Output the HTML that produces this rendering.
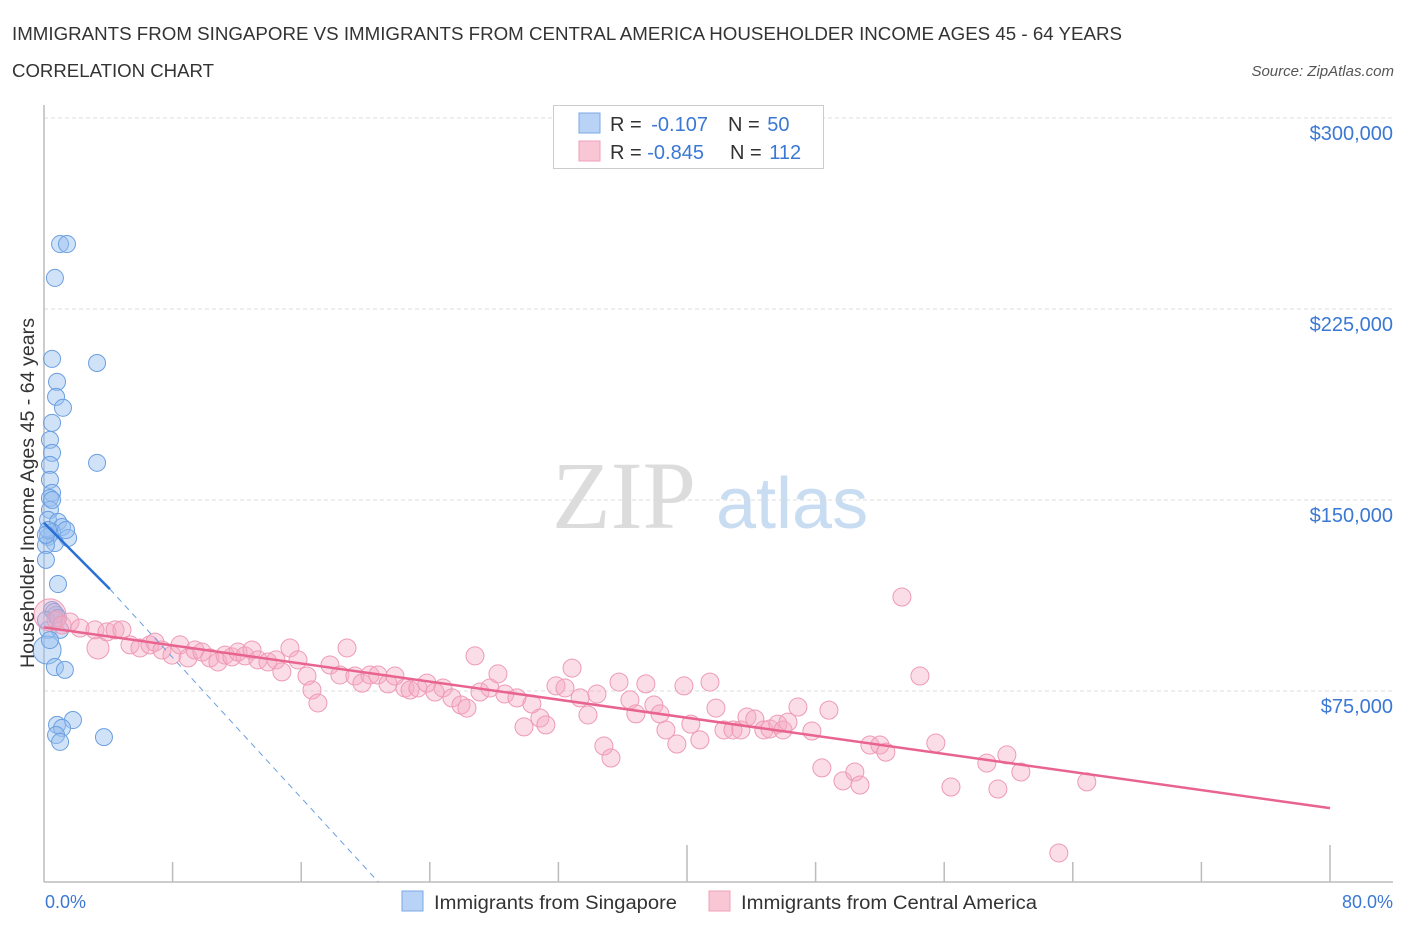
<!DOCTYPE html>
<html><head><meta charset="utf-8"><style>
body{margin:0;background:#fff;font-family:"Liberation Sans",sans-serif;}
svg{display:block}
</style></head><body>
<svg id="chart" width="1406" height="930" xmlns="http://www.w3.org/2000/svg">
<text x="12" y="40" font-size="18" fill="#333" textLength="1110" lengthAdjust="spacingAndGlyphs">IMMIGRANTS FROM SINGAPORE VS IMMIGRANTS FROM CENTRAL AMERICA HOUSEHOLDER INCOME AGES 45 - 64 YEARS</text>
<text x="12" y="77" font-size="18" fill="#333" textLength="202" lengthAdjust="spacingAndGlyphs">CORRELATION CHART</text>
<text x="1394" y="76" font-size="15" fill="#555" font-style="italic" text-anchor="end">Source: ZipAtlas.com</text>
<g>
<text x="552" y="528" font-size="96" font-family="Liberation Serif,serif" fill="#dcdcdc">ZIP</text>
<text x="716" y="528" font-size="72" fill="#c8dcf2">atlas</text>
</g>
<g id="grid"></g>
<g id="axes"></g>
<g id="marks"></g>
<text transform="translate(34,493) rotate(-90)" font-size="19" fill="#333" text-anchor="middle" textLength="350" lengthAdjust="spacingAndGlyphs">Householder Income Ages 45 - 64 years</text>
<text x="45" y="908" font-size="18" fill="#3a78d4">0.0%</text>
<text x="1393" y="908" font-size="18" fill="#3a78d4" text-anchor="end">80.0%</text>
<g>
<rect x="553.5" y="105.5" width="270" height="63" fill="#fff" stroke="#ccc"/>
<rect x="579" y="113" width="21" height="20" fill="#b8d3f5" stroke="#7aa8e6"/>
<rect x="579" y="141" width="21" height="20" fill="#f9c6d6" stroke="#eea0b8"/>
<text x="610" y="131" font-size="20" fill="#333">R = <tspan fill="#3a78d4" dx="4">-0.107</tspan><tspan dx="20">N = </tspan><tspan fill="#3a78d4" dx="2">50</tspan></text>
<text x="610" y="159" font-size="20" fill="#333">R = <tspan fill="#3a78d4">-0.845</tspan><tspan dx="26">N = </tspan><tspan fill="#3a78d4" dx="2">112</tspan></text>
</g>
<g>
<rect x="402" y="891" width="21" height="20" fill="#b8d3f5" stroke="#7aa8e6"/>
<text x="434" y="909" font-size="19" fill="#333" textLength="243" lengthAdjust="spacingAndGlyphs">Immigrants from Singapore</text>
<rect x="709" y="891" width="21" height="20" fill="#f9c6d6" stroke="#eea0b8"/>
<text x="741" y="909" font-size="19" fill="#333" textLength="296" lengthAdjust="spacingAndGlyphs">Immigrants from Central America</text>
</g>
</svg>
<script>
const yTicks=[75000,150000,225000,300000];
const yTickLabels=["$75,000","$150,000","$225,000","$300,000"];
const xTicks=[0,8,16,24,32,40,48,56,64,72,80];
const blueX=[1.0,1.43,0.68,0.5,3.3,0.81,0.75,1.18,0.5,0.37,0.5,0.37,3.3,0.37,0.5,0.37,0.37,0.25,0.87,1.12,0.5,0.25,1.5,0.68,0.12,0.12,0.87,0.5,0.75,0.25,1.0,0.19,0.68,1.3,0.81,1.8,1.12,0.75,1.0,3.73,0.25,1.37,0.62,0.12,0.5,0.12,0.87,0.37];
const blueY=[250.5,250.5,237.2,205.4,203.8,196.4,190.5,186.2,180.3,173.6,168.5,163.8,164.6,157.9,152.8,150.8,146.1,142.2,141.4,139.4,137.4,135.5,135.1,133.1,132.3,126.5,117.0,106.8,104.9,99.0,99.0,91.1,84.4,83.3,61.7,63.6,60.5,57.7,55.0,56.9,138.2,138.2,106.0,102.9,150.0,136.3,103.7,95.0];
const pinkX=[0.37,0.75,1.12,1.62,2.24,3.17,3.36,3.92,4.42,4.85,5.35,5.97,6.59,6.9,7.34,7.96,8.46,8.96,9.39,9.83,10.32,10.82,11.26,11.69,12.07,12.5,12.94,13.31,13.93,14.43,14.8,15.3,15.8,16.36,16.67,17.04,17.79,18.41,18.85,19.34,19.78,20.28,20.77,21.4,21.83,22.45,22.77,23.26,23.82,24.32,24.82,25.38,25.94,26.31,26.81,27.12,27.74,28.24,28.67,29.42,29.86,30.35,30.85,31.22,31.85,32.41,32.85,33.35,33.84,34.4,34.83,35.27,35.77,36.45,36.82,37.44,37.94,38.32,38.69,39.37,39.81,40.24,40.8,41.43,41.8,42.3,42.86,43.35,43.73,44.22,44.78,45.16,45.65,45.97,46.28,46.9,47.77,48.39,48.83,49.7,50.44,50.76,51.38,52.0,52.37,53.37,54.49,55.48,56.42,58.65,59.34,59.9,60.77,63.13,64.87];
const pinkY=[104.9,102.9,100.9,102.1,99.7,99.0,91.9,98.2,99.0,99.0,93.1,91.9,93.1,94.2,91.1,89.1,93.1,88.0,91.1,90.3,88.0,86.4,89.1,88.4,90.3,88.8,91.1,87.2,86.4,87.2,82.5,91.9,87.2,80.9,75.4,70.3,85.2,81.3,91.9,80.9,78.1,81.3,81.3,77.8,80.9,76.2,75.4,76.2,78.1,74.6,76.2,72.3,69.5,68.3,88.8,74.6,76.2,81.7,73.8,72.3,60.9,69.9,64.4,61.7,77.0,76.2,84.0,72.3,65.6,73.8,53.4,48.7,78.5,71.5,66.0,77.8,69.5,66.0,59.7,54.2,77.0,62.0,55.8,78.5,68.3,59.7,59.7,59.7,64.8,64.0,59.7,60.1,62.0,59.7,62.8,68.7,59.3,44.8,67.5,39.7,43.2,38.1,53.8,53.8,51.0,111.9,80.9,54.6,37.3,46.7,36.5,49.9,43.2,11.4,39.3];
const blueTrend=[[0,141],[4.1,115]];
const blueTrendDash=[[4.1,115],[20.8,0]];
const pinkTrend=[[0,100],[80,29]];
const NS="http://www.w3.org/2000/svg";
const X0=44,X1=1330,Y0=882;
function sx(p){return X0+(p/80)*(X1-X0);}
function sy(v){return Y0-(v/75000)*191;}
function mk(tag,attrs,parent){const e=document.createElementNS(NS,tag);for(const k in attrs)e.setAttribute(k,attrs[k]);parent.appendChild(e);return e;}
const grid=document.getElementById('grid'),axes=document.getElementById('axes'),marks=document.getElementById('marks');
yTicks.forEach((t,i)=>{
 const l=mk('line',{x1:X0,x2:1393,y1:sy(t),y2:sy(t),stroke:'#ddd','stroke-dasharray':'4,3'},grid);
 
 
 const tx=mk('text',{x:1393,y:sy(t)+22,'font-size':20,fill:'#3a78d4','text-anchor':'end'},grid);
 tx.textContent=yTickLabels[i];
 
 
});
const xa=mk('line',{x1:X0,x2:1393,y1:Y0,y2:Y0,stroke:'#bbb','stroke-width':1.5},axes);


const ya=mk('line',{x1:X0,x2:X0,y1:105,y2:Y0,stroke:'#bbb','stroke-width':1.5},axes);


xTicks.forEach(t=>{
 if(t===0)return;
 const big=(t===40||t===80);
 const l=mk('line',{x1:sx(t),x2:sx(t),y1:big?845:862,y2:Y0,stroke:'#bbb','stroke-width':1.5},axes);
 
 
});
blueX.forEach((x,i)=>{
 const c=mk('circle',{cx:sx(x),cy:sy(blueY[i]*1000),r:(i===31?14:8.5),fill:'rgba(150,190,240,0.45)',stroke:'#6a9fe0','stroke-width':1},marks);
 
 
});
pinkX.forEach((x,i)=>{
 const c=mk('circle',{cx:sx(x),cy:sy(pinkY[i]*1000),r:(i===0?16:(i===6?11:9)),fill:'rgba(246,170,195,0.4)',stroke:'#ee9ab5','stroke-width':1},marks);
 
 
});
let l1=mk('line',{x1:sx(blueTrend[0][0]),y1:sy(blueTrend[0][1]*1000),x2:sx(blueTrend[1][0]),y2:sy(blueTrend[1][1]*1000),stroke:'#2a6fd6','stroke-width':2.5},marks);


let l2=mk('line',{x1:sx(blueTrendDash[0][0]),y1:sy(blueTrendDash[0][1]*1000),x2:sx(blueTrendDash[1][0]),y2:sy(blueTrendDash[1][1]*1000),stroke:'#6a9fe0','stroke-width':1,'stroke-dasharray':'6,5'},marks);


let l3=mk('line',{x1:sx(pinkTrend[0][0]),y1:sy(pinkTrend[0][1]*1000),x2:sx(pinkTrend[1][0]),y2:sy(pinkTrend[1][1]*1000),stroke:'#e8648f','stroke-width':2.5},marks);


</script>
</body></html>
